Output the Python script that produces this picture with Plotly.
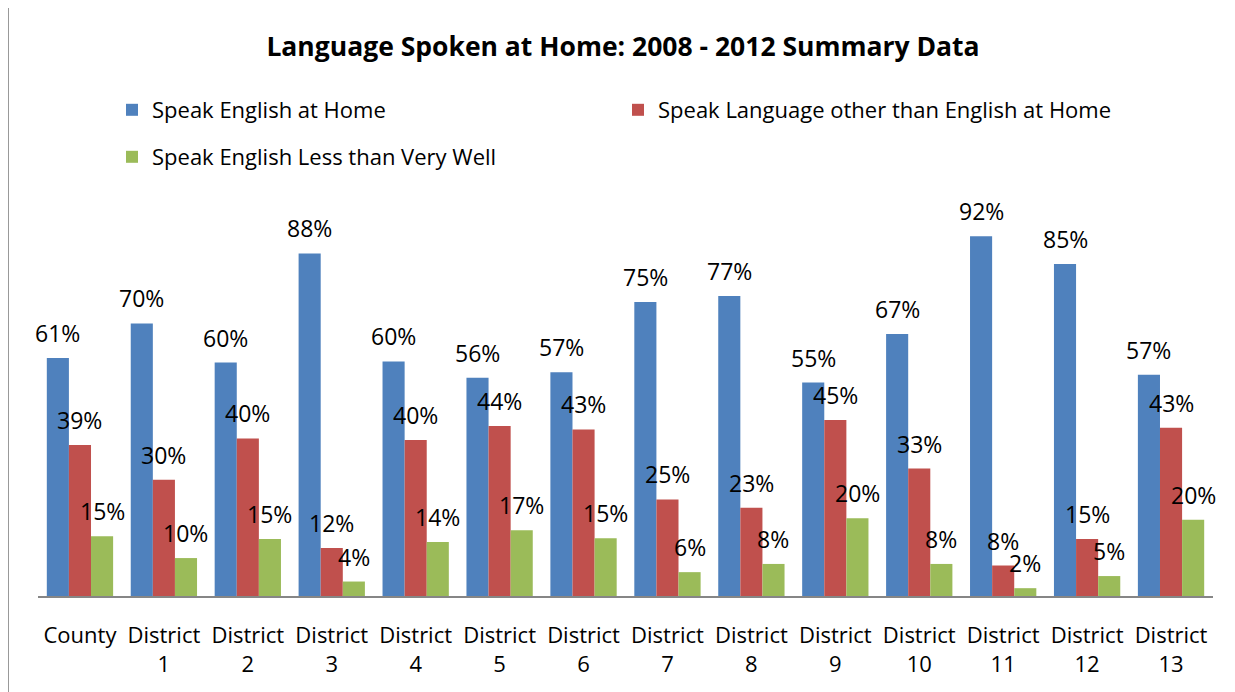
import plotly.graph_objects as go

categories = ["County", "District<br>1", "District<br>2", "District<br>3", "District<br>4",
              "District<br>5", "District<br>6", "District<br>7", "District<br>8", "District<br>9",
              "District<br>10", "District<br>11", "District<br>12", "District<br>13"]
english_home = [0.609, 0.697, 0.597, 0.876, 0.600, 0.558, 0.572, 0.752, 0.767, 0.546,
                0.670, 0.920, 0.849, 0.566]
other_language = [0.386, 0.297, 0.403, 0.123, 0.399, 0.435, 0.426, 0.247, 0.226, 0.450,
                  0.326, 0.078, 0.146, 0.430]
less_than_very_well = [0.153, 0.097, 0.146, 0.037, 0.138, 0.168, 0.148, 0.061, 0.082, 0.199,
                       0.082, 0.020, 0.051, 0.195]
series_names = ["Speak English at Home", "Speak Language other than English at Home",
                "Speak English Less than Very Well"]
colors = ["#4F81BD", "#C0504D", "#9BBB59"]

FONT = "Open Sans"
PAGE_W, PAGE_H = 1235, 692
OFF = 8  # default body margin of the html page
W, H = PAGE_W - OFF, PAGE_H - OFF
# plot area in page pixels
PX0, PX1, PY0, PY1 = 38, 1213, 205, 596
ML, MR, MT, MB = PX0 - OFF, PAGE_W - PX1, PY0 - OFF, PAGE_H - PY1
plot_w = W - ML - MR
plot_h = H - MT - MB


def px(x_page):
    return (x_page - PX0) / plot_w


def py(y_page):
    return (PY1 - y_page) / plot_h


BARGAP = 0.21
series = [english_home, other_language, less_than_very_well]
n = len(series)
bar_w = (1 - BARGAP) / n  # in category units

fig = go.Figure()
annotations = []
for i, (name, vals, col) in enumerate(zip(series_names, series, colors)):
    fig.add_trace(go.Bar(
        x=categories, y=vals, name=name, marker_color=col, marker_line_width=0,
        legend="legend2" if i == 2 else "legend",
    ))
    offset = (i - (n - 1) / 2) * bar_w
    for j, v in enumerate(vals):
        annotations.append(dict(
            x=j + offset, y=v, xref="x", yref="y", text=f"{v:.0%}",
            showarrow=False, xanchor="center", yanchor="middle", yshift=25,
            font=dict(family=FONT, size=23, color="#000000"),
        ))

fig.update_layout(
    width=W, height=H,
    margin=dict(l=ML, r=MR, t=MT, b=MB),
    paper_bgcolor="white", plot_bgcolor="white",
    barmode="group", bargap=BARGAP, bargroupgap=0,
    font=dict(family=FONT, size=22, color="#000000"),
    title=dict(text="<b>Language Spoken at Home: 2008 - 2012 Summary Data</b>",
               x=(623 - OFF) / W, xanchor="center", y=1 - (47 - OFF) / H, yanchor="middle",
               font=dict(family=FONT, size=26.5, color="#000000")),
    legend=dict(orientation="h", x=px(112), xanchor="left",
                y=py(110), yanchor="middle",
                entrywidth=461, entrywidthmode="pixels",
                font=dict(family=FONT, size=22), bgcolor="rgba(0,0,0,0)"),
    legend2=dict(orientation="h", x=px(112), xanchor="left",
                 y=py(157), yanchor="middle",
                 font=dict(family=FONT, size=22), bgcolor="rgba(0,0,0,0)"),
    xaxis=dict(showline=True, linecolor="#868686", linewidth=2, ticks="",
               tickfont=dict(family=FONT, size=22), showgrid=False,
               ticklabelstandoff=19, range=[-0.5, len(categories) - 0.5]),
    yaxis=dict(range=[0, 1.0], visible=False, showgrid=False),
    annotations=annotations,
    shapes=[dict(type="line", xref="paper", yref="paper",
                 x0=px(8), x1=px(8),
                 y0=py(PAGE_H), y1=py(OFF),
                 line=dict(color="#999999", width=2))],
)

fig.write_html("out.html")
